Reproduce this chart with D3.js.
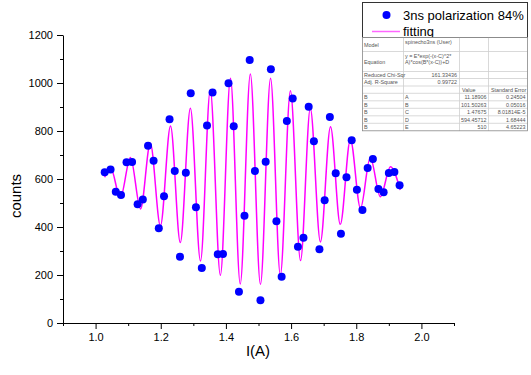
<!DOCTYPE html>
<html>
<head>
<meta charset="utf-8">
<script src="https://cdn.jsdelivr.net/npm/d3@7"></script>
<style>
  body { margin: 0; background: #fff; }
  svg { display: block; font-family: "Liberation Sans", Arial, sans-serif; }
</style>
</head>
<body>
<svg id="chart" width="531" height="375"></svg>
<script>
// measured data: current I(A) and counts
const currentI = [1.028, 1.046, 1.062, 1.078, 1.095, 1.112, 1.129, 1.145, 1.161, 1.178,
  1.194, 1.210, 1.227, 1.243, 1.259, 1.277, 1.292, 1.308, 1.326, 1.342,
  1.359, 1.375, 1.391, 1.408, 1.424, 1.440, 1.457, 1.473, 1.489, 1.506,
  1.522, 1.538, 1.555, 1.571, 1.587, 1.605, 1.621, 1.638, 1.654, 1.670,
  1.687, 1.703, 1.719, 1.737, 1.753, 1.770, 1.786, 1.802, 1.819, 1.835,
  1.851, 1.868, 1.884, 1.900, 1.917, 1.933];
const counts = [628, 640, 547, 533, 670, 671, 495, 515, 739, 676,
  395, 528, 849, 633, 276, 626, 957, 482, 229, 823,
  960, 286, 288, 999, 820, 130, 447, 1096, 633, 95,
  672, 1057, 424, 193, 842, 935, 318, 355, 901, 757,
  307, 511, 858, 624, 372, 607, 761, 555, 471, 646,
  683, 558, 545, 625, 629, 574];

// fitting curve, read at its turning points
const fitI = [1.028, 1.046, 1.076, 1.107, 1.138, 1.168, 1.199, 1.230, 1.260, 1.291,
  1.322, 1.352, 1.383, 1.414, 1.444, 1.475, 1.506, 1.537, 1.567, 1.598,
  1.629, 1.659, 1.690, 1.721, 1.751, 1.782, 1.813, 1.843, 1.874, 1.905, 1.935];
const fitCounts = [607, 647, 522, 690, 475, 749, 405, 821, 335, 895,
  258, 971, 199, 1020, 163, 1038, 161, 1020, 200, 968,
  260, 895, 338, 818, 411, 765, 478, 690, 526, 651, 554];

const xMajor = [1.0, 1.2, 1.4, 1.6, 1.8, 2.0];
const xMinor = [0.9, 1.1, 1.3, 1.5, 1.7, 1.9, 2.1];
const yMajor = [0, 200, 400, 600, 800, 1000, 1200];
const yMinor = [100, 300, 500, 700, 900, 1100];

const seriesName = "3ns polarization 84%";
const fitName = "fitting";

// fit report table
const reportTop = [
  ["Model", "spinecho3ns (User)"],
  ["Equation", "y = E*exp(-(x-C)^2*", "A)*cos(B*(x-C))+D"],
  ["Reduced Chi-Sqr", "161.33436"],
  ["Adj. R-Square", "0.99722"]
];
const reportHead = ["", "", "Value", "Standard Error"];
const paramNames = ["A", "B", "C", "D", "E"];
const paramValues = ["11.18906", "101.50263", "1.47675", "594.45712", "510"];
const paramErrors = ["0.24504", "0.05016", "8.01814E-5", "1.68444", "4.65223"];

const svg = d3.select("#chart");

const x = d3.scaleLinear().domain([0.9, 2.1]).range([63, 454]);
const y = d3.scaleLinear().domain([0, 1200]).range([323, 35]);

// axes
const xAxisG = svg.append("g").attr("transform", "translate(0,323)");
xAxisG.call(d3.axisBottom(x).tickValues(xMajor).tickFormat(d3.format(".1f"))
  .tickSize(6).tickSizeOuter(0).tickPadding(4));
xAxisG.append("g").call(d3.axisBottom(x).tickValues(xMinor).tickFormat("").tickSize(3).tickSizeOuter(0))
  .select(".domain").remove();

const yAxisG = svg.append("g").attr("transform", "translate(63,0)");
yAxisG.call(d3.axisLeft(y).tickValues(yMajor).tickFormat(d3.format("d"))
  .tickSize(6).tickSizeOuter(0).tickPadding(4));
yAxisG.append("g").call(d3.axisLeft(y).tickValues(yMinor).tickFormat("").tickSize(3).tickSizeOuter(0))
  .select(".domain").remove();

svg.selectAll(".tick text")
  .attr("font-size", 11)
  .attr("font-family", "Liberation Sans, Arial, sans-serif")
  .attr("fill", "#000");
svg.selectAll(".domain, .tick line").attr("stroke", "#000");

// axis titles
svg.append("text")
  .attr("x", 258).attr("y", 356)
  .attr("text-anchor", "middle")
  .attr("font-size", 15)
  .text("I(A)");

svg.append("text")
  .attr("transform", "translate(21,196) rotate(-90)")
  .attr("text-anchor", "middle")
  .attr("font-size", 15)
  .text("counts");

// fitting curve
const line = d3.line()
  .x((d, i) => x(fitI[i]))
  .y(d => y(d))
  .curve(d3.curveMonotoneX);

svg.append("path")
  .datum(fitCounts)
  .attr("d", line)
  .attr("fill", "none")
  .attr("stroke", "#ff00ff")
  .attr("stroke-width", 1.5);

// data points
svg.selectAll("circle.pt")
  .data(counts)
  .enter()
  .append("circle")
  .attr("class", "pt")
  .attr("cx", (d, i) => x(currentI[i]))
  .attr("cy", d => y(d))
  .attr("r", 4)
  .attr("fill", "#0000ff");

// legend
const legend = svg.append("g");
legend.append("rect")
  .attr("x", 362.5).attr("y", 2.5)
  .attr("width", 165).attr("height", 35)
  .attr("fill", "#fff")
  .attr("stroke", "#333");
legend.append("circle")
  .attr("cx", 386.5).attr("cy", 15)
  .attr("r", 4)
  .attr("fill", "#0000ff");
legend.append("text")
  .attr("x", 403).attr("y", 19.5)
  .attr("font-size", 13)
  .text(seriesName);
legend.append("line")
  .attr("x1", 372).attr("x2", 400)
  .attr("y1", 31.5).attr("y2", 31.5)
  .attr("stroke", "#ff66ff")
  .attr("stroke-width", 1.5);
legend.append("text")
  .attr("x", 403).attr("y", 36)
  .attr("font-size", 13)
  .text(fitName);

// fit report table
const tbl = svg.append("g").attr("font-size", 5.4).attr("fill", "#555");
const colX = [362.5, 403.5, 459.5, 488.5, 527.5];
const rowY = [37.5, 51.5, 71.5, 78.5, 86, 93.3, 100.8, 108.3, 115.8, 123.3, 130.8];

tbl.append("rect")
  .attr("x", colX[0]).attr("y", rowY[0])
  .attr("width", colX[4] - colX[0]).attr("height", rowY[10] - rowY[0])
  .attr("fill", "#fff");

rowY.slice(1, 10).forEach(ry => {
  tbl.append("line")
    .attr("x1", colX[0]).attr("x2", colX[4])
    .attr("y1", ry).attr("y2", ry)
    .attr("stroke", "#cfcfcf").attr("stroke-width", 0.8);
});
colX.slice(1, 4).forEach(cx => {
  tbl.append("line")
    .attr("x1", cx).attr("x2", cx)
    .attr("y1", rowY[0]).attr("y2", rowY[10])
    .attr("stroke", "#cfcfcf").attr("stroke-width", 0.8);
});
tbl.append("rect")
  .attr("x", colX[0]).attr("y", rowY[0])
  .attr("width", colX[4] - colX[0]).attr("height", rowY[10] - rowY[0])
  .attr("fill", "none")
  .attr("stroke", "#888").attr("stroke-width", 0.8);

const mid = i => (rowY[i] + rowY[i + 1]) / 2 + 2;

tbl.append("text").attr("x", 364).attr("y", mid(0)).text(reportTop[0][0]);
tbl.append("text").attr("x", 405).attr("y", 44).text(reportTop[0][1]);
tbl.append("text").attr("x", 364).attr("y", mid(1)).text(reportTop[1][0]);
tbl.append("text").attr("x", 405).attr("y", 57.5).text(reportTop[1][1]);
tbl.append("text").attr("x", 405).attr("y", 63.5).text(reportTop[1][2]);
[2, 3].forEach(i => {
  tbl.append("text").attr("x", 364).attr("y", mid(i)).text(reportTop[i][0]);
  tbl.append("text").attr("x", 457).attr("y", mid(i)).attr("text-anchor", "end").text(reportTop[i][1]);
});

tbl.append("text").attr("x", 462).attr("y", mid(4)).text(reportHead[2]);
tbl.append("text").attr("x", 491).attr("y", mid(4)).text(reportHead[3]);

paramNames.forEach((p, k) => {
  const r = 5 + k;
  tbl.append("text").attr("x", 364).attr("y", mid(r)).text("B");
  tbl.append("text").attr("x", 405).attr("y", mid(r)).text(p);
  tbl.append("text").attr("x", 486.5).attr("y", mid(r)).attr("text-anchor", "end").text(paramValues[k]);
  tbl.append("text").attr("x", 525.5).attr("y", mid(r)).attr("text-anchor", "end").text(paramErrors[k]);
});
</script>
</body>
</html>
